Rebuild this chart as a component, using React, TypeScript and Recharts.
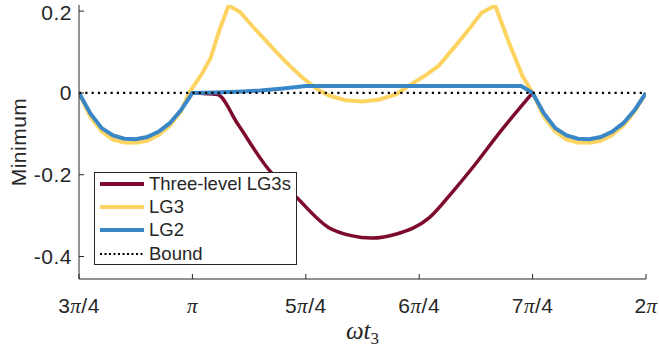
import React from 'react';
import { LineChart, Line, XAxis, YAxis } from 'recharts';

// x in units of pi/4 (3 = 3π/4 ... 8 = 2π)
const xTicks = [3, 4, 5, 6, 7, 8];
const xTickLabels = ['3π/4', 'π', '5π/4', '6π/4', '7π/4', '2π'];
const yTicks = [-0.4, -0.2, 0, 0.2];

const threeLevelX = [4.0, 4.22, 4.4, 4.66, 4.92, 5.2, 5.4, 5.58, 5.8, 6.09, 6.3, 6.47, 6.7, 7.0];
const threeLevelY = [0, -0.004, -0.076, -0.183, -0.256, -0.329, -0.349, -0.355, -0.345, -0.305, -0.24, -0.183, -0.1, 0];

const lg3X = [
  3.0, 3.1, 3.2, 3.3, 3.4, 3.5, 3.6, 3.7, 3.8, 3.9, 3.97,
  4.08, 4.16, 4.24, 4.32, 4.42, 4.54, 4.66, 4.76, 4.86, 4.96, 5.04, 5.12, 5.21, 5.35, 5.5,
  5.65, 5.8, 5.91, 6.04, 6.17, 6.32, 6.44, 6.55, 6.67, 6.79, 6.91, 7.0,
  7.1, 7.2, 7.3, 7.4, 7.5, 7.6, 7.7, 7.8, 7.9, 8.0,
];
const lg3Y = [
  0, -0.058, -0.094, -0.114, -0.121, -0.122, -0.117, -0.103, -0.08, -0.045, 0,
  0.045, 0.085, 0.155, 0.214, 0.198, 0.16, 0.124, 0.094, 0.066, 0.04, 0.022, 0.006, -0.007, -0.018, -0.021,
  -0.016, -0.003, 0.018, 0.04, 0.066, 0.115, 0.156, 0.196, 0.214, 0.124, 0.042, 0,
  -0.058, -0.094, -0.114, -0.121, -0.122, -0.117, -0.103, -0.08, -0.045, 0,
];

const lg2X = [
  3.0, 3.1, 3.2, 3.3, 3.4, 3.5, 3.6, 3.7, 3.8, 3.9, 4.0,
  4.2, 4.4, 4.6, 4.8, 5.0, 6.9, 7.0,
  7.1, 7.2, 7.3, 7.4, 7.5, 7.6, 7.7, 7.8, 7.9, 8.0,
];
const lg2Y = [
  0, -0.05, -0.086, -0.104, -0.112, -0.113, -0.108, -0.095, -0.074, -0.042, 0,
  0.001, 0.003, 0.006, 0.011, 0.017, 0.017, 0,
  -0.05, -0.086, -0.104, -0.112, -0.113, -0.108, -0.095, -0.074, -0.042, 0,
];

const boundX = [3, 8];
const boundY = [0, 0];

const toPoints = (xs: number[], ys: number[]) => xs.map((x, i) => ({ x, y: ys[i] }));

const RED = '#7d0b2c';
const YELLOW = '#fdd462';
const BLUE = '#3a87c8';
const AXIS = '#262626';
const SANS = '"Liberation Sans", Arial, Helvetica, sans-serif';
const SERIF = '"Liberation Serif", "Times New Roman", serif';

const legendItems = [
  { name: 'Three-level LG3s', color: RED, dash: undefined, width: 4 },
  { name: 'LG3', color: YELLOW, dash: undefined, width: 4 },
  { name: 'LG2', color: BLUE, dash: undefined, width: 4 },
  { name: 'Bound', color: '#000', dash: '2 2.5', width: 2 },
];

// x tick with the TeX-like italic pi
const XTick = ({ x, y, payload }: any) => {
  const label = xTickLabels[xTicks.indexOf(payload.value)] ?? '';
  const parts = label.split('π');
  return (
    <text x={x} y={y} dy="0.71em" textAnchor="middle" fontSize={21} fill={AXIS} fontFamily={SANS} letterSpacing={0.5}>
      {parts.map((p, i) => (
        <React.Fragment key={i}>
          {p && <tspan>{p}</tspan>}
          {i < parts.length - 1 && (
            <tspan fontFamily={SERIF} fontStyle="italic">π</tspan>
          )}
        </React.Fragment>
      ))}
    </text>
  );
};

export default function App() {
  return (
    <div style={{ position: 'absolute', left: 0, top: 0, width: 659, height: 348, background: '#fff' }}>
      <LineChart width={659} height={348} margin={{ top: 5, right: 13, bottom: 0, left: 0 }}>
        <XAxis
          dataKey="x"
          type="number"
          domain={[3, 8]}
          ticks={xTicks}
          height={69}
          stroke={AXIS}
          tickSize={-5}
          tickMargin={24}
          tick={<XTick />}
          allowDataOverflow
        />
        <YAxis
          type="number"
          domain={[-0.455, 0.215]}
          ticks={yTicks}
          width={79}
          stroke={AXIS}
          tickSize={-5}
          tickMargin={12}
          allowDataOverflow
          tickFormatter={(v: number) => (v === 0 ? '0' : v.toFixed(1))}
          tick={{ fontSize: 21, fill: AXIS, fontFamily: SANS, letterSpacing: 0.5 }}
          label={{
            value: 'Minimum',
            angle: -90,
            position: 'insideLeft',
            offset: 19,
            style: { textAnchor: 'middle', fontSize: 21, fill: AXIS, fontFamily: SANS, letterSpacing: 0.5 },
          }}
        />
        <Line data={toPoints(lg3X, lg3Y)} dataKey="y" type="linear" stroke={YELLOW} strokeWidth={4} dot={false} isAnimationActive={false} />
        <Line data={toPoints(threeLevelX, threeLevelY)} dataKey="y" type="monotone" stroke={RED} strokeWidth={3.5} dot={false} isAnimationActive={false} />
        <Line data={toPoints(lg2X, lg2Y)} dataKey="y" type="linear" stroke={BLUE} strokeWidth={4} dot={false} isAnimationActive={false} />
        <Line data={toPoints(boundX, boundY)} dataKey="y" type="linear" stroke="#000" strokeWidth={2.2} strokeDasharray="2.2 4.1" dot={false} isAnimationActive={false} />
      </LineChart>

      {/* legend */}
      <div
        style={{
          position: 'absolute', left: 94, top: 172, width: 203, height: 93,
          border: `1px solid ${AXIS}`, background: '#fff', boxSizing: 'border-box',
          fontFamily: SANS, fontSize: 18.5, color: AXIS,
        }}
      >
        {legendItems.map((it, i) => (
          <div key={it.name} style={{ position: 'absolute', left: 5, top: i * 23.4 - 1, height: 23.4, display: 'flex', alignItems: 'center' }}>
            <svg width={44} height={6} style={{ display: 'block' }}>
              <line x1={0} y1={3} x2={44} y2={3} stroke={it.color} strokeWidth={it.width} strokeDasharray={it.dash} />
            </svg>
            <span style={{ marginLeft: 5, whiteSpace: 'nowrap' }}>{it.name}</span>
          </div>
        ))}
      </div>

      {/* x-axis label */}
      <div
        style={{
          position: 'absolute', left: 79, width: 567, top: 317, textAlign: 'center',
          fontFamily: SERIF, fontStyle: 'italic', fontSize: 25, color: AXIS,
        }}
      >
        ωt<sub style={{ fontSize: 17, fontStyle: 'normal', verticalAlign: '-0.3em' }}>3</sub>
      </div>
    </div>
  );
}
